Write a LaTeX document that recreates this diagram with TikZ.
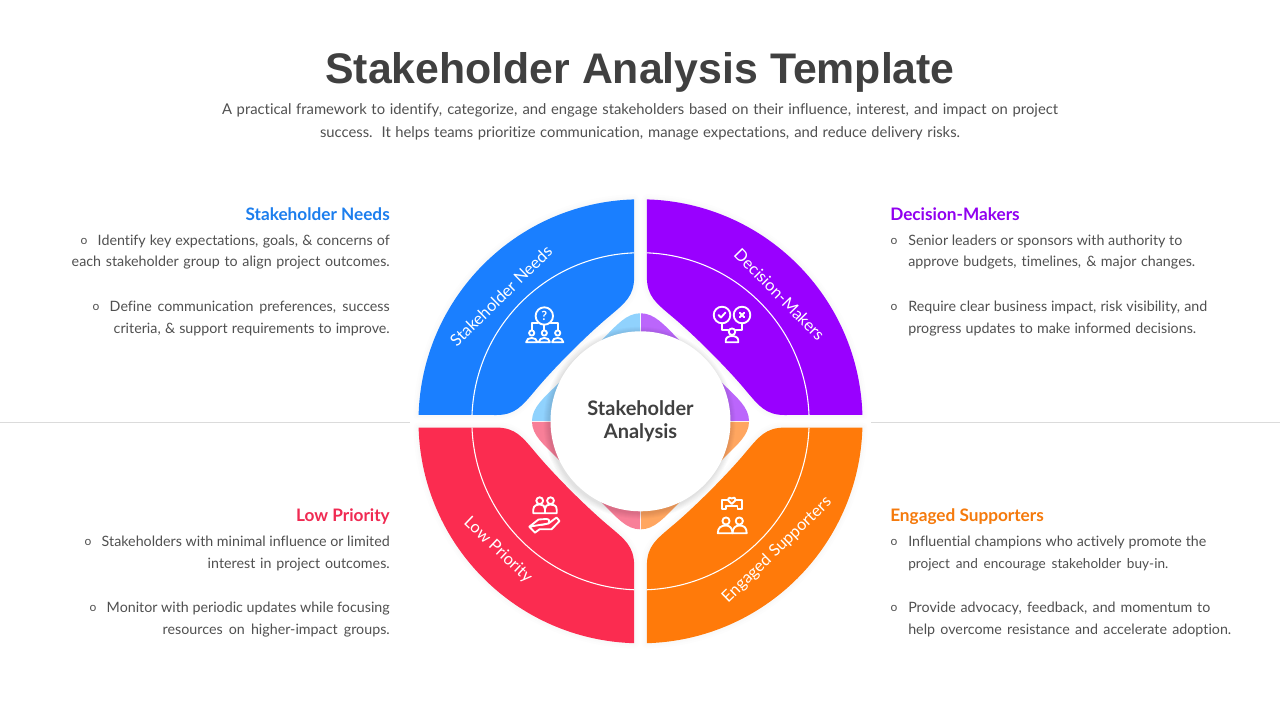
\documentclass[tikz,border=0pt]{standalone}
\usepackage{fontspec}
\setmainfont[Ligatures=NoCommon]{Lato}
\newfontfamily\titlefont{Liberation Sans}
\usetikzlibrary{calc}
\definecolor{cblue}{HTML}{1A7FFF}
\definecolor{cpurple}{HTML}{9900FF}
\definecolor{cred}{HTML}{FB2C50}
\definecolor{corange}{HTML}{FF7A0A}
\definecolor{tblue}{HTML}{90D2FD}
\definecolor{tpurple}{HTML}{BB66FB}
\definecolor{tred}{HTML}{F87F98}
\definecolor{torange}{HTML}{FFA660}
\definecolor{hblue}{HTML}{1C7EEE}
\definecolor{hpurple}{HTML}{9100F0}
\definecolor{hred}{HTML}{F02A52}
\definecolor{horange}{HTML}{F57A0C}
\definecolor{ink}{HTML}{404040}
\definecolor{body}{HTML}{505050}
\newcommand\fitw[2]{\hbox to #1\dimexpr.75pt\relax{\spaceskip=.2em plus 1em minus .1em #2}}
\newcommand\segpath{(6.4,144) -- (6.4,221.9) arc[start angle=88.35,end angle=1.65,radius=222] -- (144,6.3) .. controls (125,6.3) and (118,16) .. (106,30) .. controls (88,52) and (52,88) .. (30,106) .. controls (16,118) and (6.4,125) .. (6.4,144) -- cycle}
\newcommand\tintpath{(0.5,0.5) -- (0.5,108) .. controls (14,108) and (24,96) .. (36,84) -- (84,36) .. controls (96,24) and (108.5,14) .. (108.5,0.5) -- cycle}
\newcommand\seg[3]{%
  \begin{scope}[xscale=#1,yscale=#2]
    \foreach \w in {8,5,3}{\draw[black,opacity=.006,line width=\w pt,line join=round] \segpath;}
    \fill[#3] \segpath;
    \draw[white,line width=.8pt] (168.5,6.3) arc[start angle=2.15,end angle=87.85,radius=168.6];
  \end{scope}}
\newcommand\tint[3]{\fill[#3,xscale=#1,yscale=#2] \tintpath;}
\tikzset{
  x=.75pt,y=.75pt,
  bodytext/.style={font=\fontsize{10.7pt}{13pt}\selectfont,text=body,anchor=base,inner sep=0pt},
  headtext/.style={font=\fontsize{12.9pt}{14pt}\selectfont\bfseries,anchor=base,inner sep=0pt},
  bandtext/.style={font=\fontsize{12.3pt}{14pt}\selectfont,text=white,inner sep=0pt},
  dot/.style={font=\fontsize{9pt}{10pt}\selectfont,text=body,anchor=base,inner sep=0pt},
  icon/.style={draw=white,line width=1.4pt,line join=round,line cap=round,fill=none},
}
\begin{document}
\begin{tikzpicture}
\fill[white] (0,0) rectangle (1280,-720);
\useasboundingbox (0,0) rectangle (1280,-720);
\node[font=\titlefont\bfseries\fontsize{32.1pt}{38pt}\selectfont,text=ink,anchor=base,inner sep=0pt] (title) at (640,-84) {Stakeholder Analysis Template};
\node[bodytext,font=\fontsize{11.1pt}{13pt}\selectfont] (sub1) at (640,-115) {\fitw{836}{A practical framework to identify, categorize, and engage stakeholders based on their influence, interest, and impact on project}};
\node[bodytext,font=\fontsize{11.1pt}{13pt}\selectfont] (sub2) at (640,-138) {\fitw{640}{success. It helps teams prioritize communication, manage expectations, and reduce delivery risks.}};
\draw[black!14,line width=.75pt] (0,-422) -- (410,-422) (871,-422) -- (1280,-422);

\begin{scope}[shift={(640.5,-421.3)}]
\seg{-1}{1}{cblue}
\seg{1}{1}{cpurple}
\seg{-1}{-1}{cred}
\seg{1}{-1}{corange}
\tint{-1}{1}{tblue}
\tint{1}{1}{tpurple}
\tint{-1}{-1}{tred}
\tint{1}{-1}{torange}
\foreach \r in {96,95,94,93,92,91}{\fill[black,opacity=.02] (-1,-1.5) circle[radius=\r];}
\fill[white] (0,0) circle[radius=90];
\end{scope}

\node[font=\fontsize{15pt}{17.2pt}\selectfont\bfseries,text=ink,align=center,inner sep=0pt] (centre) at (640.5,-421.5) {Stakeholder\\Analysis};

\node[bandtext,rotate=44.5] (b1) at (501,-296) {Stakeholder Needs};
\node[bandtext,rotate=-45.5] (b2) at (779.5,-294.5) {Decision-Makers};
\node[bandtext,rotate=-43.5] (b3) at (498,-550) {Low Priority};
\node[bandtext,rotate=44] (b4) at (777,-550) {Engaged Supporters};

% Left column, top
\node[headtext,text=hblue,anchor=base east] (h1) at (390,-220) {Stakeholder Needs};
\node[bodytext,anchor=base east] (l1a) at (390,-245) {\fitw{292}{Identify key expectations, goals, \& concerns of}};
\node[bodytext,anchor=base east] (l1b) at (390,-267) {\fitw{318}{each stakeholder group to align project outcomes.}};
\node[bodytext,anchor=base east] (l1c) at (390,-311) {\fitw{280}{Define communication preferences, success}};
\node[bodytext,anchor=base east] (l1d) at (390,-333) {\fitw{276}{criteria, \& support requirements to improve.}};
\node[dot] (d1a) at (84,-244.5) {o};
\node[dot] (d1c) at (96,-310.5) {o};
% Left column, bottom
\node[headtext,text=hred,anchor=base east] (h3) at (390,-521) {Low Priority};
\node[bodytext,anchor=base east] (l3a) at (390,-546) {\fitw{288}{Stakeholders with minimal influence or limited}};
\node[bodytext,anchor=base east] (l3b) at (390,-568) {\fitw{182}{interest in project outcomes.}};
\node[bodytext,anchor=base east] (l3c) at (390,-612) {\fitw{283}{Monitor with periodic updates while focusing}};
\node[bodytext,anchor=base east] (l3d) at (390,-634) {\fitw{227}{resources on higher-impact groups.}};
\node[dot] (d3a) at (88,-545.5) {o};
\node[dot] (d3c) at (93,-611.5) {o};
% Right column, top
\node[headtext,text=hpurple,anchor=base west] (h2) at (890,-220) {Decision-Makers};
\node[bodytext,anchor=base west] (l2a) at (908,-245) {\fitw{274}{Senior leaders or sponsors with authority to}};
\node[bodytext,anchor=base west] (l2b) at (908,-267) {\fitw{287}{approve budgets, timelines, \& major changes.}};
\node[bodytext,anchor=base west] (l2c) at (908,-311) {\fitw{299}{Require clear business impact, risk visibility, and}};
\node[bodytext,anchor=base west] (l2d) at (908,-333) {\fitw{288}{progress updates to make informed decisions.}};
\node[dot] (d2a) at (894,-244.5) {o};
\node[dot] (d2c) at (894,-310.5) {o};
% Right column, bottom
\node[headtext,text=horange,anchor=base west] (h4) at (890,-521) {Engaged Supporters};
\node[bodytext,anchor=base west] (l4a) at (908,-546) {\fitw{298}{Influential champions who actively promote the}};
\node[bodytext,anchor=base west,font=\fontsize{10.2pt}{13pt}\selectfont] (l4b) at (908,-568) {\fitw{260}{project and encourage stakeholder buy-in.}};
\node[bodytext,anchor=base west] (l4c) at (908,-612) {\fitw{302}{Provide advocacy, feedback, and momentum to}};
\node[bodytext,anchor=base west] (l4d) at (908,-634) {\fitw{323}{help overcome resistance and accelerate adoption.}};
\node[dot] (d4a) at (894,-545.5) {o};
\node[dot] (d4c) at (894,-611.5) {o};

\begin{scope}[yscale=-1]
% icon 1
\draw[icon] (544.3,316) circle[radius=8.7];
\node[font=\fontsize{9.5pt}{10pt}\selectfont\bfseries,text=white,inner sep=0pt] (q) at (544.3,316) {?};
\draw[icon] (531.7,330) -- (531.7,322.7) -- (538,322.7) (550.6,322.7) -- (557.7,322.7) -- (557.7,330) (544.3,324.7) -- (544.3,330);
\foreach \c in {531.7,544.3,557.7}{
  \draw[icon] (\c,333) circle[radius=2.6];
  \draw[icon] (\c-5.6,342.3) .. controls (\c-5.6,336.5) and (\c+5.6,336.5) .. (\c+5.6,342.3) -- cycle;
}
% icon 2
\draw[icon] (722,315) circle[radius=8.3] (742,315) circle[radius=8.3];
\draw[icon] (718.5,315) -- (721,317.5) -- (725.5,312.5);
\draw[icon] (739.8,312.8) -- (744.2,317.2) (744.2,312.8) -- (739.8,317.2);
\draw[icon] (722,323.3) -- (722,330) -- (728.5,330) (742,323.3) -- (742,330) -- (735.5,330);
\draw[icon] (732,331.7) circle[radius=3.3];
\draw[icon] (725.7,342.3) -- (725.7,340.5) .. controls (725.7,334.5) and (738.3,334.5) .. (738.3,340.5) -- (738.3,342.3) -- cycle;
% icon 3
\draw[icon] (539.7,500.7) circle[radius=3.4] (550.5,500.7) circle[radius=3.4];
\draw[icon] (533.3,513.3) -- (533.3,509.5) .. controls (533.3,505) and (538,504.5) .. (540,504.5) .. controls (543,504.5) and (545,506) .. (545,509) -- (545,513.3) -- cycle;
\draw[icon] (545,509) .. controls (545,506) and (547,504.5) .. (550,504.5) .. controls (553,504.5) and (556.7,505) .. (556.7,509.5) -- (556.7,513.3) -- (545,513.3);
\draw[icon] (529.3,526.7) -- (535,532.7) -- (539.5,529.3) -- (551.5,529.3) -- (559.5,521) -- (556.5,517.5) -- (548.5,523.5) -- (541.5,525) (548.5,523.5) .. controls (550,520.5) and (549,519) .. (546,519) -- (538.5,519.5) -- (529.3,526.7) -- cycle;
% icon 4
\draw[icon] (728.5,500) -- (721.7,500) -- (721.7,509) -- (726,509) -- (726,505.7) -- (737.5,505.7) -- (737.5,509) -- (742,509) -- (742,500) -- (735,500);
\draw[icon] (731.8,504) -- (728.3,500.5) .. controls (727.5,497.5) and (731,496.5) .. (731.8,498.5) .. controls (732.6,496.5) and (736,497.5) .. (735.3,500.5) -- cycle;
\draw[icon] (726,521) circle[radius=3.6] (739.3,521) circle[radius=3.6];
\draw[icon] (717.8,533.3) .. controls (717.8,527.5) and (721,525.5) .. (726,525.5) .. controls (729.5,525.5) and (732.5,528) .. (732.5,533.3) -- cycle;
\draw[icon] (732.5,533.3) .. controls (732.5,528) and (735.5,525.5) .. (739.3,525.5) .. controls (744,525.5) and (746.7,527.5) .. (746.7,533.3) -- cycle;
\end{scope}
\end{tikzpicture}
\end{document}
